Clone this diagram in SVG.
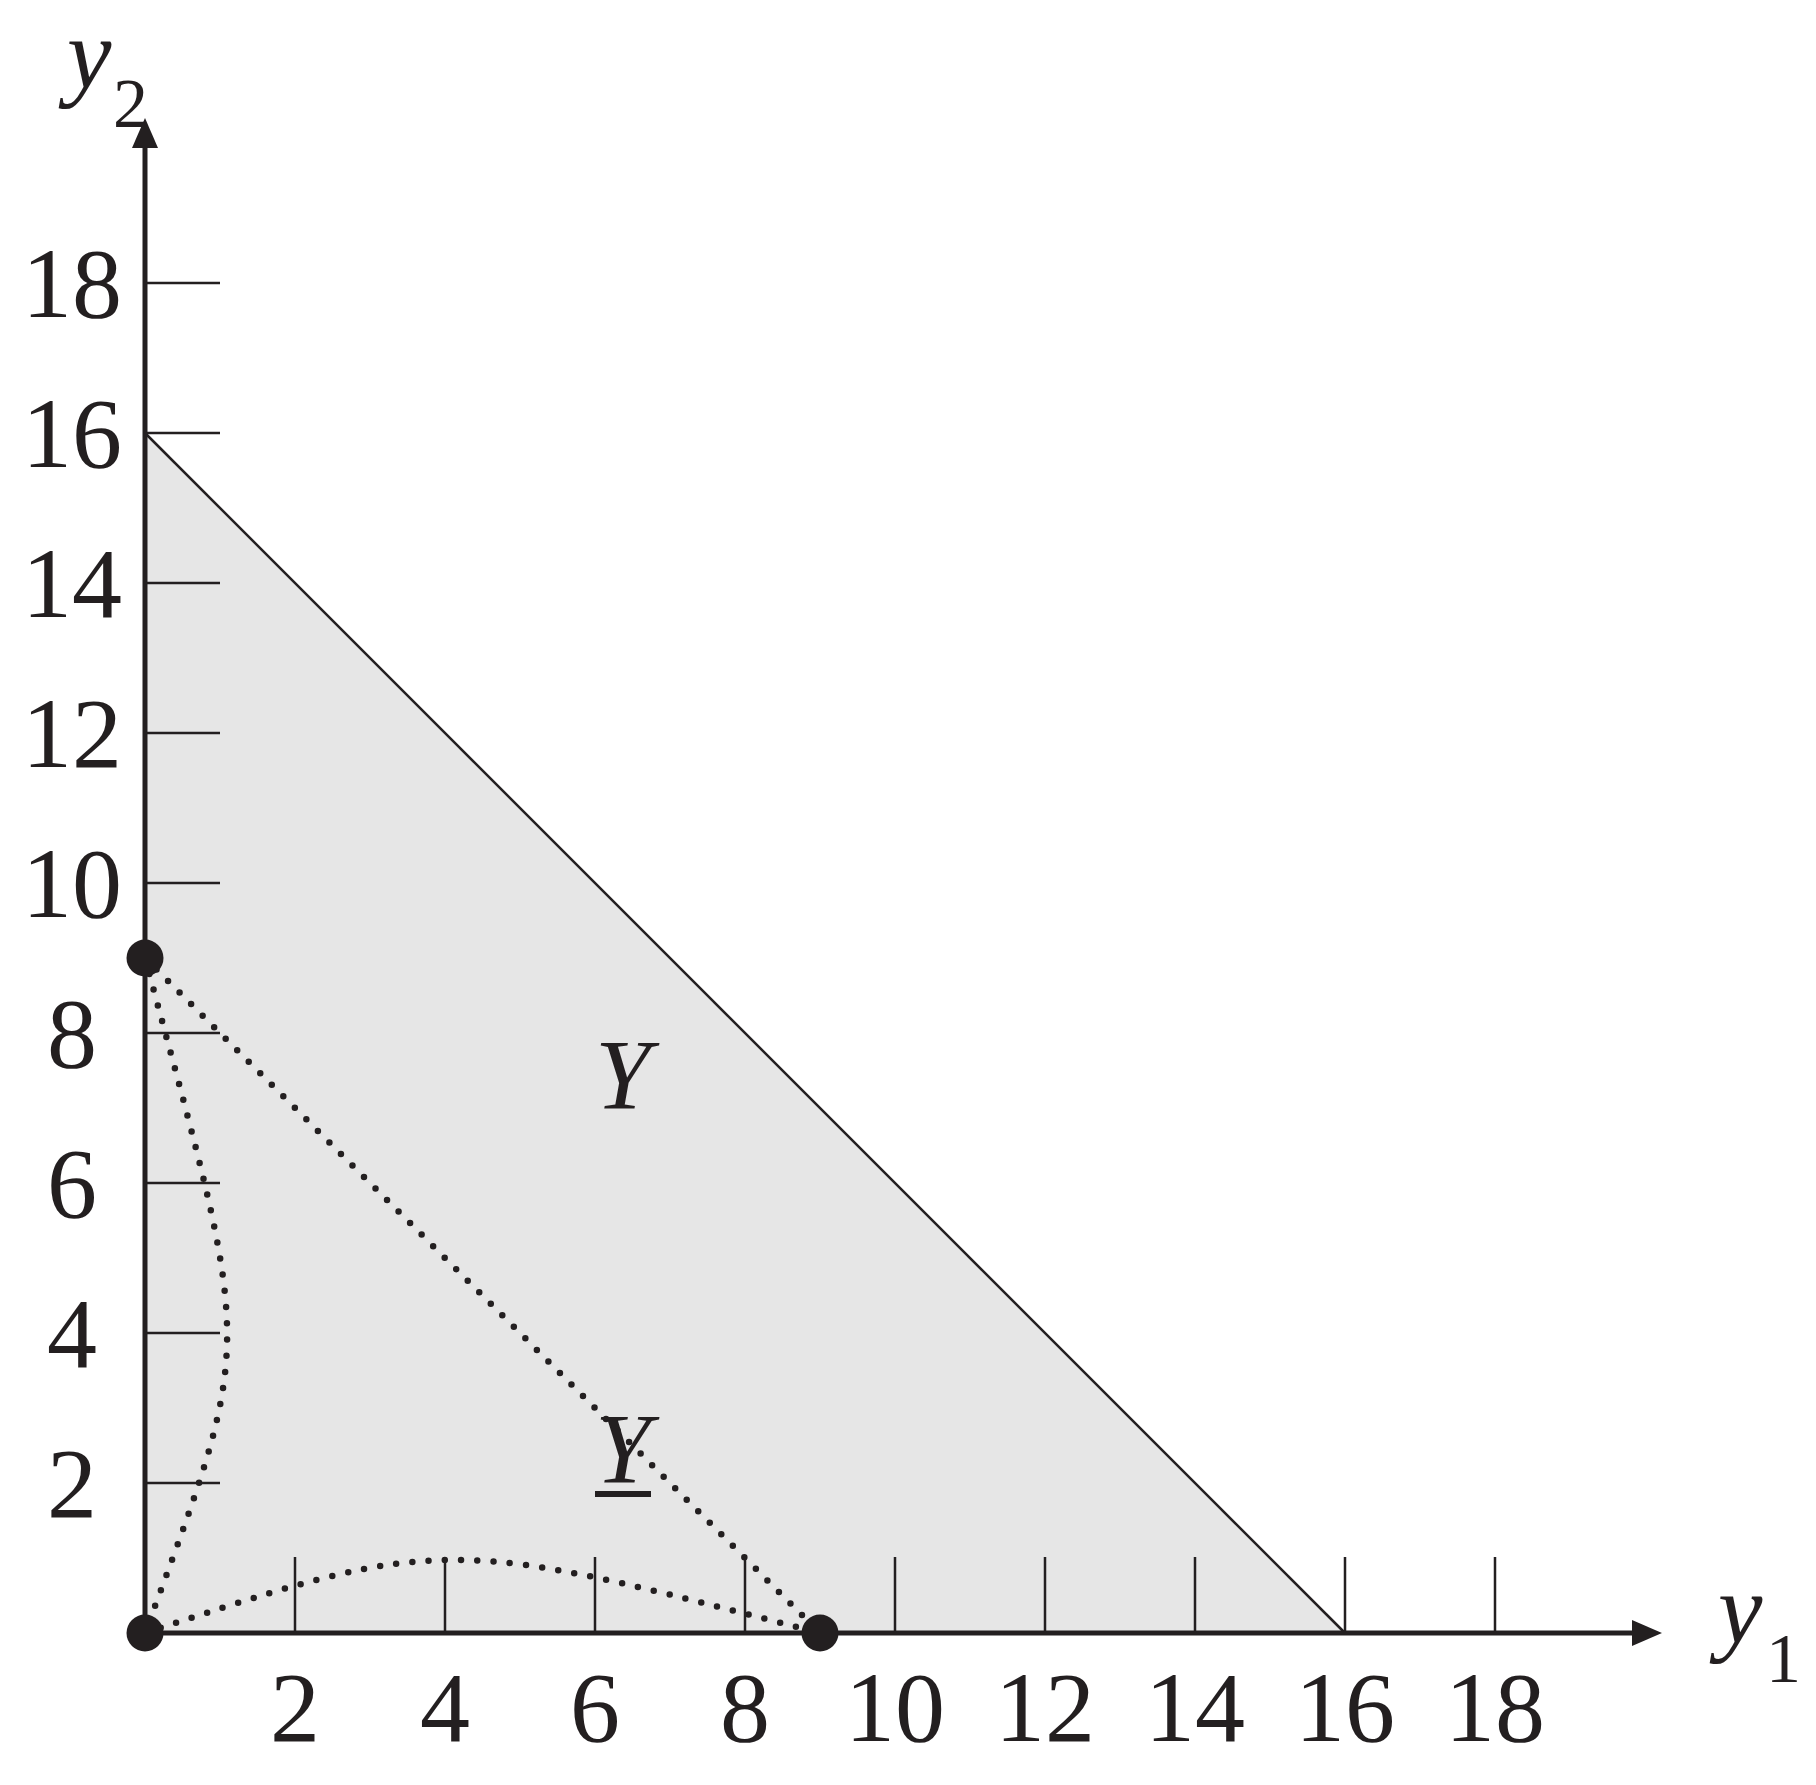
<svg xmlns="http://www.w3.org/2000/svg" width="1816" height="1785" viewBox="0 0 1816 1785">
<style>
.axis{stroke:#231f20;stroke-width:5;fill:none}
.tick{stroke:#231f20;stroke-width:2.5;fill:none}
.dotted{stroke:#231f20;stroke-width:6.5;fill:none;stroke-linecap:round;stroke-dasharray:0 16.3}
.num{font-family:"Liberation Serif","Times New Roman",serif;font-size:100px;fill:#231f20;text-anchor:middle}
.it{font-family:"Liberation Serif","Times New Roman",serif;font-style:italic;font-size:100px;fill:#231f20}
.sub{font-family:"Liberation Serif","Times New Roman",serif;font-size:70px;fill:#231f20}
.pt{fill:#231f20}
</style>
<defs>
<marker id="arrow" viewBox="0 -13 30 26" markerWidth="30" markerHeight="26" refX="0" refY="0" orient="auto" markerUnits="userSpaceOnUse" overflow="visible">
<path d="M0,-13 L30,0 L0,13 Z" fill="#231f20"/>
</marker>
</defs>
<rect width="1816" height="1785" fill="#ffffff"/>
<g id="region">
<polygon points="145,1633 1345,1633 145,433" fill="#e6e6e6"/>
<line x1="145" y1="433" x2="1345" y2="1633" stroke="#231f20" stroke-width="2.5"/>
</g>
<g id="connectors">
<line class="dotted" x1="145" y1="958" x2="820" y2="1633"/>
<path class="dotted" d="M145,1633 C445,1534 450,1537 820,1633"/>
<path class="dotted" d="M145,958 C253,1358 256,1333 145,1633"/>
</g>
<g id="axes">
<line class="axis" x1="145" y1="1633" x2="1632" y2="1633" marker-end="url(#arrow)"/>
<line class="axis" x1="145" y1="1633" x2="145" y2="148" marker-end="url(#arrow)"/>
</g>
<g id="ticks">
<path class="tick" d="M295,1633V1557M445,1633V1557M595,1633V1557M745,1633V1557M895,1633V1557M1045,1633V1557M1195,1633V1557M1345,1633V1557M1495,1633V1557"/>
<path class="tick" d="M145,1483H220M145,1333H220M145,1183H220M145,1033H220M145,883H220M145,733H220M145,583H220M145,433H220M145,283H220"/>
</g>
<g id="points">
<circle id="p-origin" class="pt" cx="145" cy="1633" r="18.5"/>
<circle id="p-x9" class="pt" cx="820" cy="1633" r="18.5"/>
<circle id="p-y9" class="pt" cx="145" cy="958" r="18.5"/>
</g>
<g id="x-labels">
<text class="num" x="295" y="1741">2</text>
<text class="num" x="445" y="1741">4</text>
<text class="num" x="595" y="1741">6</text>
<text class="num" x="745" y="1741">8</text>
<text class="num" x="895" y="1741">10</text>
<text class="num" x="1045" y="1741">12</text>
<text class="num" x="1195" y="1741">14</text>
<text class="num" x="1345" y="1741">16</text>
<text class="num" x="1495" y="1741">18</text>
</g>
<g id="y-labels">
<text class="num" x="72" y="1517">2</text>
<text class="num" x="72" y="1367">4</text>
<text class="num" x="72" y="1217">6</text>
<text class="num" x="72" y="1067">8</text>
<text class="num" x="72" y="917">10</text>
<text class="num" x="72" y="767">12</text>
<text class="num" x="72" y="617">14</text>
<text class="num" x="72" y="467">16</text>
<text class="num" x="72" y="317">18</text>
</g>
<g id="axis-titles">
<text class="it" x="67" y="88">y</text>
<text class="sub" x="113" y="127">2</text>
<text class="it" x="1718" y="1643">y</text>
<text class="sub" x="1766" y="1682">1</text>
</g>
<g id="set-labels">
<text id="label-Y" class="it" x="595" y="1108">Y</text>
<text id="label-Yunder" class="it" x="595" y="1482">Y</text>
<line x1="595" y1="1494" x2="651" y2="1494" stroke="#231f20" stroke-width="6"/>
</g>
</svg>
